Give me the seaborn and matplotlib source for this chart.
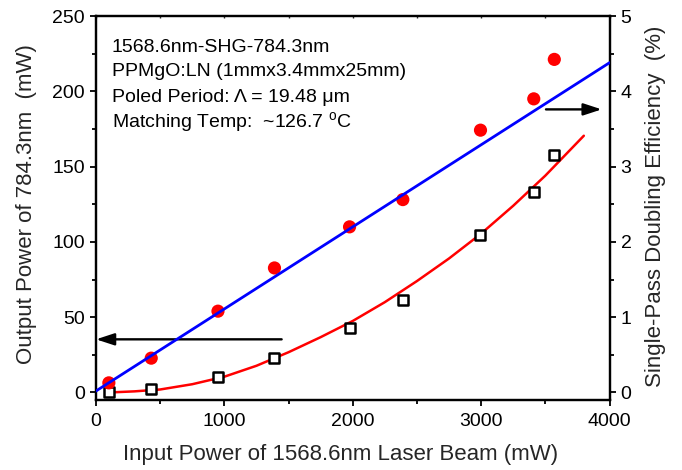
import matplotlib
matplotlib.use("Agg")
import matplotlib.pyplot as plt
from matplotlib.ticker import MultipleLocator
import numpy as np
import pandas as pd
import seaborn as sns

pump_mw = [100, 430, 950, 1390, 1975, 2390, 2995, 3410, 3570]
shg_mw = [6.4, 22.8, 54.0, 82.7, 110.0, 128.1, 174.2, 195.0, 221.2]
eff_pct = [0.0, 0.05, 0.2, 0.46, 0.86, 1.23, 2.09, 2.66, 3.16]

# linear fit of SHG power (blue)
fit_x = [0, 4000]
fit_y = [1.0, 219.0]

# efficiency fit curve (red)
curve_x = [100, 300, 500, 750, 1000, 1250, 1500, 1750, 2000, 2250, 2500,
           2750, 3000, 3250, 3500, 3800]
curve_y = [0.0, 0.015, 0.04, 0.11, 0.21, 0.355, 0.535, 0.735, 0.95, 1.20,
           1.48, 1.78, 2.11, 2.48, 2.88, 3.41]

info_lines = [
    "1568.6nm-SHG-784.3nm",
    "PPMgO:LN (1mmx3.4mmx25mm)",
    "Poled Period: \u039b = 19.48 \u03bcm",
    "Matching Temp:  ~126.7 $^\\mathrm{o}$C",
]

sns.set_theme(style="ticks")
plt.rcParams["font.family"] = ["Liberation Sans", "DejaVu Sans"]
plt.rcParams["mathtext.fontset"] = "custom"
plt.rcParams["mathtext.rm"] = "Liberation Sans"
plt.rcParams["mathtext.it"] = "Liberation Sans:italic"
plt.rcParams["mathtext.sf"] = "Liberation Sans"

df_pts = pd.DataFrame({"pump": pump_mw, "shg": shg_mw, "eff": eff_pct})
df_fit = pd.DataFrame({"x": fit_x, "y": fit_y})
df_curve = pd.DataFrame({"x": curve_x, "y": curve_y})

fig = plt.figure(figsize=(6.82, 4.70), dpi=100)
ax = fig.add_axes([0.1408, 0.1489, 0.7529, 0.8170])
ax2 = ax.twinx()

sns.scatterplot(data=df_pts, x="pump", y="shg", ax=ax, color="#ff0000",
                s=90, marker="o", edgecolor="none", zorder=3)
sns.lineplot(data=df_fit, x="x", y="y", ax=ax, color="#0000ff", lw=2.0,
             zorder=4)

sns.lineplot(data=df_curve, x="x", y="y", ax=ax2, color="#ff0000", lw=1.8,
             zorder=3)
sns.scatterplot(data=df_pts, x="pump", y="eff", ax=ax2, marker="s", s=42,
                facecolor="white", edgecolor="black", linewidth=1.8, zorder=4)

ax.set_xlim(0, 4000)
ax.set_ylim(-5, 250)
ax2.set_ylim(-0.1, 5)

ax.xaxis.set_major_locator(MultipleLocator(1000))
ax.xaxis.set_minor_locator(MultipleLocator(500))
ax.yaxis.set_major_locator(MultipleLocator(50))
ax.yaxis.set_minor_locator(MultipleLocator(25))
ax2.yaxis.set_major_locator(MultipleLocator(1))
ax2.yaxis.set_minor_locator(MultipleLocator(0.5))

for a in (ax, ax2):
    for sp in a.spines.values():
        sp.set_visible(True)
        sp.set_linewidth(1.6)
        sp.set_color("black")
    a.tick_params(which="major", length=4.5, width=1.3, labelsize=14,
                  color="black", labelcolor="black", pad=3.5)
    a.tick_params(which="minor", length=2.8, width=1.3, color="black")
    a.grid(False)

ax.tick_params(axis="x", which="both", direction="out", pad=5)
ax2.tick_params(axis="y", which="both", right=True, left=False)
# tiny marks along the top frame
ax.secondary_xaxis("top").tick_params(which="both", direction="in",
                                      length=1.5, width=1.0, labeltop=False)

ax.set_xlabel("Input Power of 1568.6nm Laser Beam (mW)", fontsize=16)
ax.set_ylabel("Output Power of 784.3nm  (mW)", fontsize=16)
ax2.set_ylabel("Single-Pass Doubling Efficiency  (%)", fontsize=16)
ax.xaxis.set_label_coords(0.477, -0.115)
ax.yaxis.set_label_coords(-0.115, 0.51)
ax2.yaxis.set_label_coords(1.069, 0.505)

# arrows pointing at the axis each data set belongs to
arrow_kw = dict(arrowstyle="-|>,head_length=0.55,head_width=0.18",
                mutation_scale=20, lw=1.7, color="black",
                shrinkA=0, shrinkB=0)
ax.annotate("", xy=(0, 35.3), xytext=(1446, 35.3), arrowprops=arrow_kw)
ax.annotate("", xy=(3939, 188), xytext=(3505, 188), arrowprops=arrow_kw)

text_y = [0.906, 0.844, 0.776, 0.711]
for line, ty in zip(info_lines, text_y):
    ax2.text(0.031, ty, line, transform=ax.transAxes, fontsize=14,
             va="baseline", ha="left", color="black")

ax.set_zorder(ax2.get_zorder() + 1)
ax.patch.set_visible(False)

fig.savefig("out.png", dpi=100)
